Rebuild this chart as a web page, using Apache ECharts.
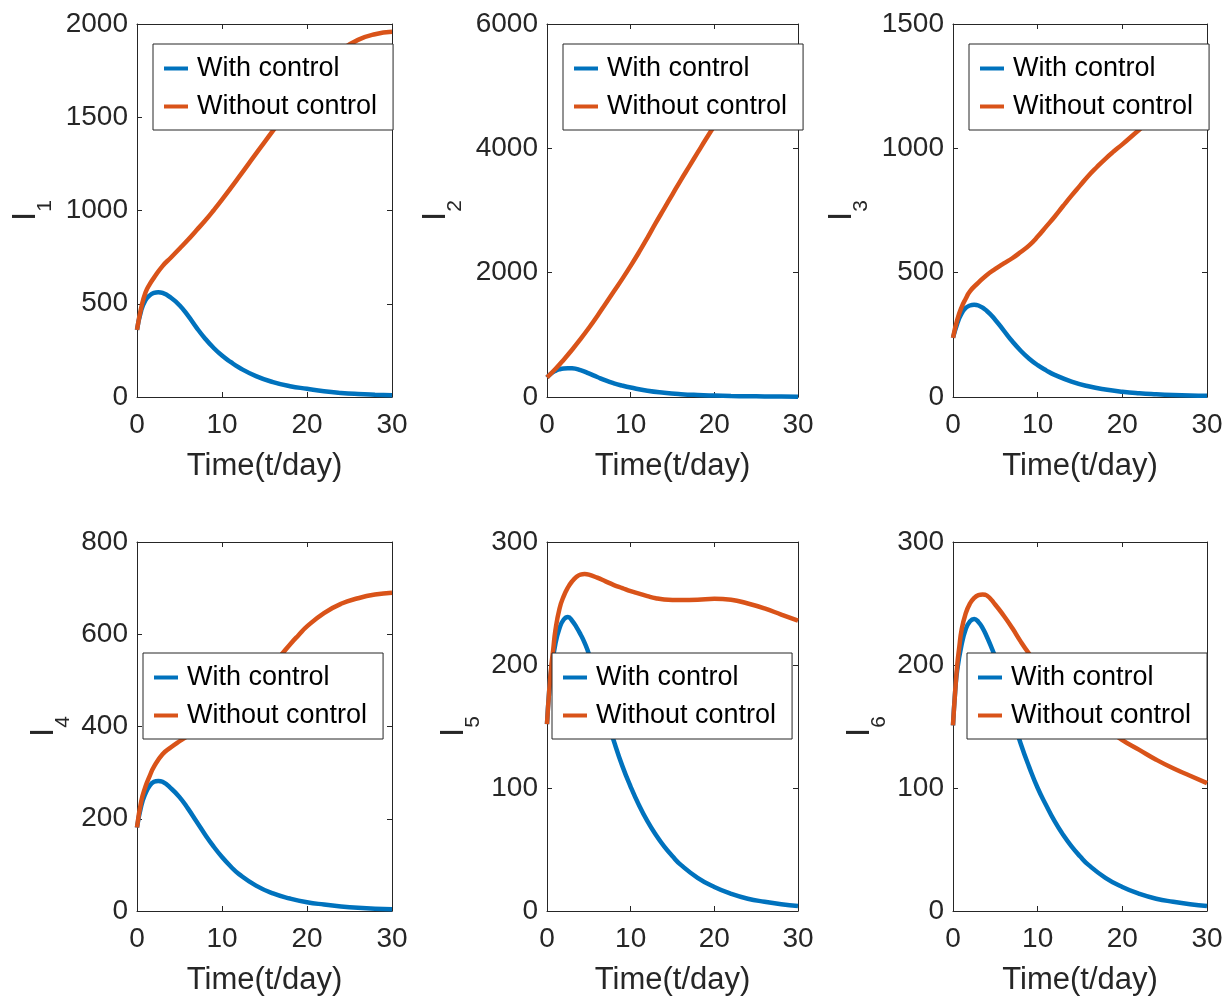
<!DOCTYPE html>
<html lang="en">
<head>
  <meta charset="UTF-8">
  <title>I1-I6 with and without control</title>
  <script src="https://cdn.jsdelivr.net/npm/echarts@6/dist/echarts.min.js"></script>
  <style>
    html, body { margin: 0; padding: 0; background: #fff; }
    #chart { width: 1226px; height: 998px; }
  </style>
</head>
<body>
  <div id="chart"></div>
<script>
  // time (days) and values
  const tWith1 = [0,0.5,1,1.5,2,2.5,3,4,5,6,7,8,9,10,11,12,14,16,18,20,22,24,26,28,30];
  const with1 = [360,465,520,545,558,562,558,532,492,436,372,314,264,222,188,158,112,80,58,44,31,22,16,12,9];
  const tWithout1 = [0,0.5,1,1.5,2,3,4,5,6,7,8,9,10,12,14,16,18,20,22,24,26,28,30];
  const without1 = [360,480,560,605,640,702,748,795,843,894,945,1000,1058,1180,1305,1428,1555,1680,1780,1860,1915,1945,1958];

  const tWith2 = [0,0.5,1,1.5,2,2.5,3,4,5,6,7,8,9,10,12,14,16,18,20,22,24,26,28,30];
  const with2 = [315,378,420,446,460,464,462,432,380,322,266,220,183,152,100,68,46,32,23,16,12,9,7,5];
  const tWithout2 = [0,1,2,3,4,5,6,7,8,9,10,11,12,13,14,15,16,17,18,19,20,22,24,26,28,30];
  const without2 = [315,450,600,760,930,1110,1300,1500,1700,1900,2110,2330,2560,2800,3030,3260,3490,3710,3930,4150,4360,4750,5080,5300,5430,5500];

  const tWith3 = [0,0.5,1,1.5,2,2.5,3,4,5,6,7,8,9,10,11,12,14,16,18,20,22,24,26,28,30];
  const with3 = [238,295,335,358,368,371,368,346,310,267,224,186,154,128,107,89,62,43,30,21,15,11,8,6,5];
  const tWithout3 = [0,0.5,1,1.5,2,3,4,5,6,7,8,9,10,11,12,13,14,15,16,17,18,19,20,22,24,26,28,30];
  const without3 = [238,310,360,395,425,460,491,515,537,558,583,610,645,685,725,768,810,850,890,925,958,988,1016,1075,1130,1175,1210,1230];

  const tWith4 = [0,0.5,1,1.5,2,2.5,3,4,5,6,7,8,9,10,11,12,14,16,18,20,22,24,26,28,30];
  const with4 = [181,228,255,272,280,282,280,266,247,222,194,166,140,117,97,80,55,38,27,19,14,10,7,5,4];
  const tWithout4 = [0,0.5,1,1.5,2,3,4,5,6,8,10,12,14,16,17,18,19,20,22,24,26,28,30];
  const without4 = [181,238,270,293,313,340,355,368,380,403,430,461,496,535,556,578,598,617,646,666,678,686,690];

  const tWith5 = [0,0.25,0.5,1,1.5,2,2.5,3,3.5,4,4.5,5,6,7,8,9,10,11,12,13,14,15,16,18,20,22,24,26,28,30];
  const with5 = [152,178,196,217,230,237,239,236,231,225,218,209,185,160,138,118,101,86,73,62,52.5,44.5,37.5,27,19.5,14,10,7.5,5.5,4];
  const tWithout5 = [0,0.25,0.5,0.75,1,1.5,2,2.5,3,3.5,4,4.5,5,6,7,8,9,10,11,12,13,14,16,18,20,22,24,26,28,30];
  const without5 = [152,178,198,213,228,246,256,263,268,271.5,273.5,274,273.5,271,268,265,262.5,260,258,256,254.3,253.3,252.8,253,253.8,253,250,246,241,236];

  const tWith6 = [0,0.25,0.5,1,1.5,2,2.5,3,3.5,4,4.5,5,6,7,8,9,10,11,12,13,14,15,16,18,20,22,24,26,28,30];
  const with6 = [151,178,196,216,229,235.5,237.5,235,230,223,215,206,182,158,136,117,100,86,73,62,52.5,44.5,37.5,27,19.5,14,10,7.5,5.5,4];
  const tWithout6 = [0,0.25,0.5,0.75,1,1.5,2,2.5,3,3.5,4,5,6,7,8,9,10,11,12,14,16,18,20,22,24,26,28,30];
  const without6 = [151,178,200,215,228,242,250,254.5,256.8,257.4,256.5,249,240,230,219,209,200,192,185,172,160,149,139,131,123,116,110,104];

  const seriesNames = ['With control', 'Without control'];
  const yMax = [2000, 6000, 1500, 800, 300, 300];
  const yStep = [500, 2000, 500, 200, 100, 100];

  const panels = [
    [tWith1, with1, tWithout1, without1],
    [tWith2, with2, tWithout2, without2],
    [tWith3, with3, tWithout3, without3],
    [tWith4, with4, tWithout4, without4],
    [tWith5, with5, tWithout5, without5],
    [tWith6, with6, tWithout6, without6]
  ];

  // layout (px)
  const grids = [
    {left: 137, top: 24, width: 255, height: 373},
    {left: 547, top: 24, width: 251, height: 373},
    {left: 953, top: 24, width: 254, height: 373},
    {left: 137, top: 542, width: 255, height: 369},
    {left: 547, top: 542, width: 251, height: 369},
    {left: 953, top: 542, width: 254, height: 369}
  ];
  const legendPos = [[153, 44], [563, 44], [969, 44], [143, 653], [552, 653], [967, 653]];
  const yNameGap = [88, 88, 88, 70, 70, 70];

  const FONT = 'Liberation Sans, Arial, Helvetica, sans-serif';
  const INK = '#262626';
  const BLUE = '#0072BD';
  const ORANGE = '#D95319';

  const zip = (xs, ys) => xs.map((x, i) => [x, ys[i]]);
  const plain = v => String(v);

  let option = {
    backgroundColor: '#fff',
    animation: false,
    textStyle: {fontFamily: FONT},
    grid: [], xAxis: [], yAxis: [], legend: [], series: []
  };

  const tickStyle = {show: true, inside: true, length: 5, lineStyle: {color: INK, width: 1}};
  const lineStyle = {show: true, onZero: false, lineStyle: {color: INK, width: 1}};

  panels.forEach((p, i) => {
    option.grid.push(Object.assign({containLabel: false}, grids[i]));

    // bottom + top x axes
    option.xAxis.push({
      type: 'value', gridIndex: i, position: 'bottom', min: 0, max: 30, interval: 10,
      name: 'Time(t/day)', nameLocation: 'middle', nameGap: 54,
      nameTextStyle: {fontSize: 31, color: INK, fontFamily: FONT},
      axisLine: lineStyle, axisTick: tickStyle, splitLine: {show: false},
      axisLabel: {fontSize: 28, color: INK, margin: 14, fontFamily: FONT, formatter: plain}
    });
    option.xAxis.push({
      type: 'value', gridIndex: i, position: 'top', min: 0, max: 30, interval: 10,
      axisLine: lineStyle, axisTick: tickStyle, splitLine: {show: false}, axisLabel: {show: false}
    });

    // left + right y axes
    option.yAxis.push({
      type: 'value', gridIndex: i, position: 'left', min: 0, max: yMax[i], interval: yStep[i],
      name: '{a|I}{b|' + (i + 1) + '}', nameLocation: 'middle', nameRotate: 90, nameGap: yNameGap[i],
      nameTextStyle: {
        color: INK, fontFamily: FONT,
        rich: {
          a: {fontSize: 33, lineHeight: 33, padding: [0, 0, 14, 0], color: INK, fontFamily: FONT},
          b: {fontSize: 21, lineHeight: 21, padding: [26, 0, 0, 0], color: INK, fontFamily: FONT}
        }
      },
      axisLine: lineStyle, axisTick: tickStyle, splitLine: {show: false},
      axisLabel: {fontSize: 28, color: INK, margin: 9, fontFamily: FONT, formatter: plain}
    });
    option.yAxis.push({
      type: 'value', gridIndex: i, position: 'right', min: 0, max: yMax[i], interval: yStep[i],
      axisLine: lineStyle, axisTick: tickStyle, splitLine: {show: false}, axisLabel: {show: false}
    });

    option.series.push({
      name: seriesNames[0], type: 'line', xAxisIndex: 2 * i, yAxisIndex: 2 * i,
      data: zip(p[0], p[1]), showSymbol: false, symbol: 'none', smooth: 0.5,
      color: BLUE, itemStyle: {color: BLUE}, lineStyle: {color: BLUE, width: 4.5}, z: 2
    });
    option.series.push({
      name: seriesNames[1], type: 'line', xAxisIndex: 2 * i, yAxisIndex: 2 * i,
      data: zip(p[2], p[3]), showSymbol: false, symbol: 'none', smooth: 0.5,
      color: ORANGE, itemStyle: {color: ORANGE}, lineStyle: {color: ORANGE, width: 4.5}, z: 3
    });

    option.legend.push({
      data: seriesNames, orient: 'vertical', left: legendPos[i][0], top: legendPos[i][1],
      icon: 'rect', itemWidth: 24, itemHeight: 4, itemGap: 11,
      selectedMode: false,
      backgroundColor: '#fff', borderColor: INK, borderWidth: 1, padding: [11, 16, 10, 11],
      textStyle: {fontSize: 27, lineHeight: 27, color: '#000', fontFamily: FONT, padding: [0, 0, 0, 4]},
      z: 10
    });
  });

  let myCharts = echarts.init(document.getElementById('chart'), null, {renderer: 'canvas'});
  myCharts.setOption(option);
</script>
</body>
</html>
